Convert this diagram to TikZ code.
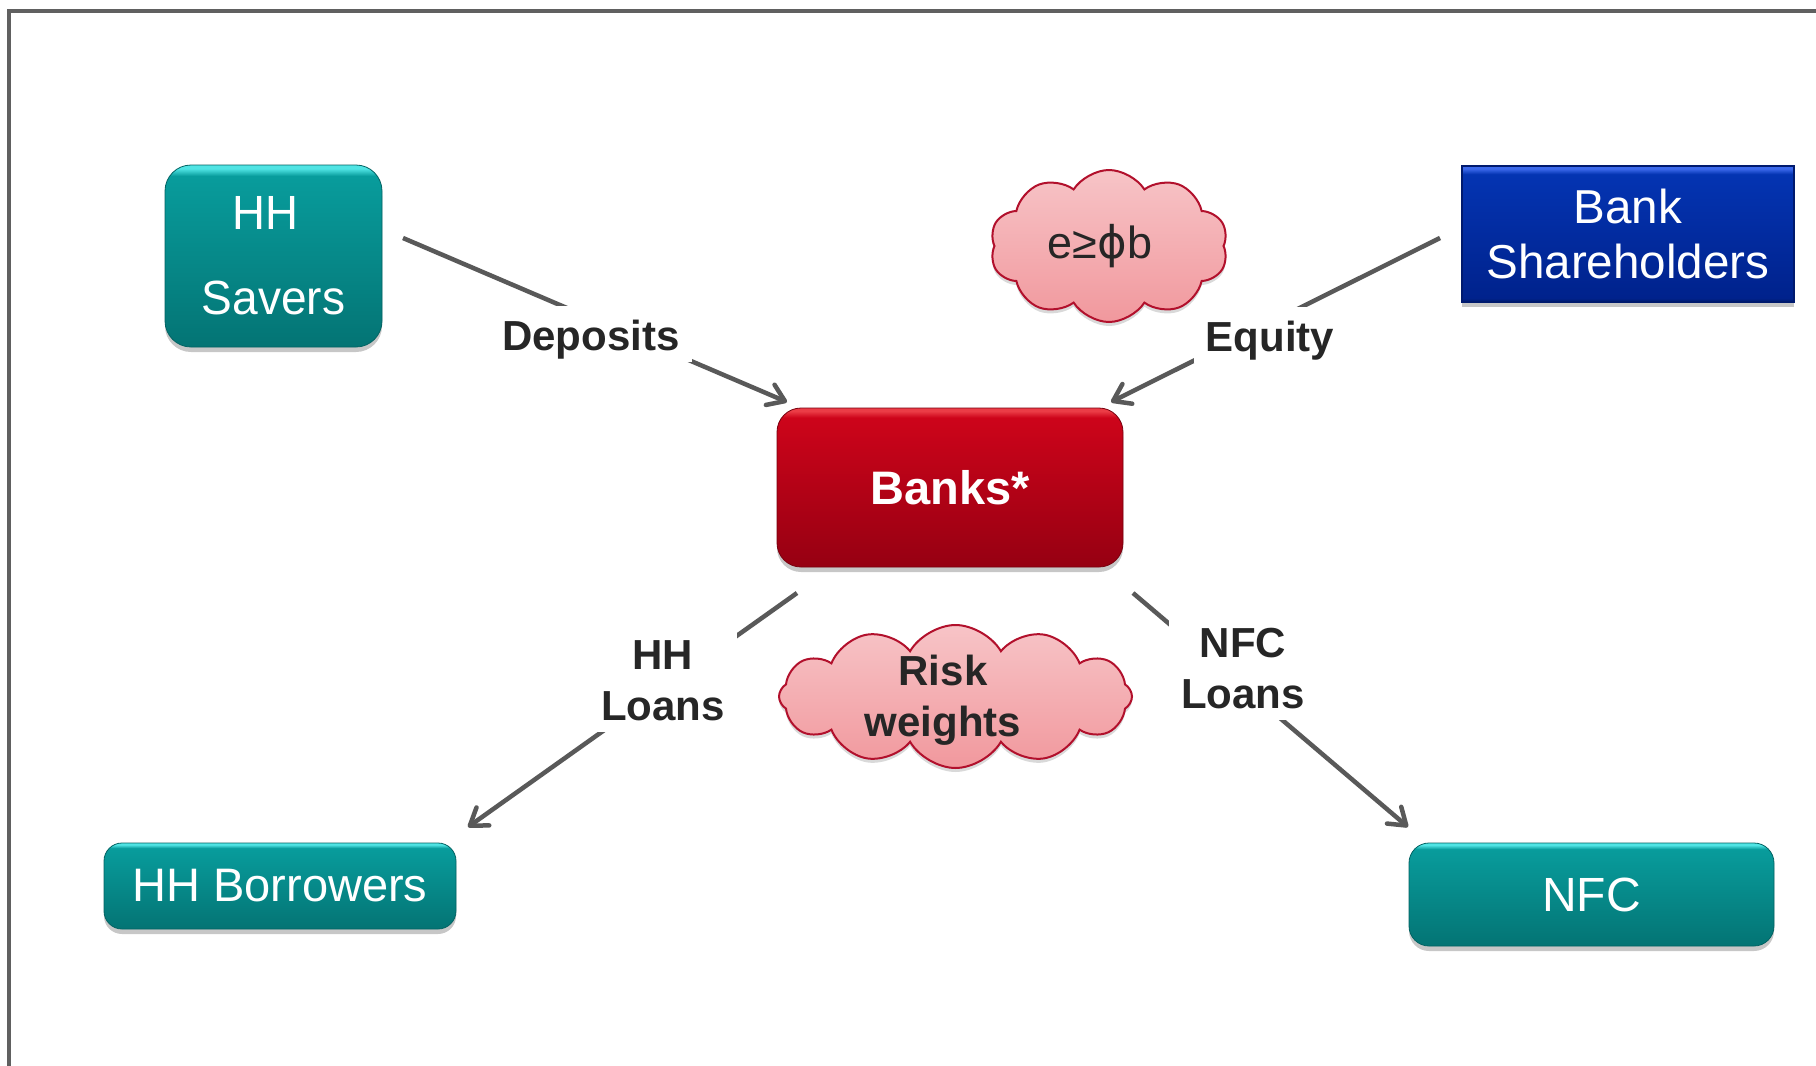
\documentclass[tikz,border=0pt]{standalone}
\usepackage{fontspec}
\setmainfont{Liberation Sans}
\newfontfamily\dejavu{DejaVu Sans}
\usepackage{graphicx}
\usetikzlibrary{arrows.meta,shapes.symbols,shadows}

\definecolor{linegray}{RGB}{89,89,89}
\definecolor{framegray}{RGB}{96,96,96}
\definecolor{labeltext}{RGB}{38,38,38}
\definecolor{tbot}{RGB}{4,116,116}
\definecolor{tmid}{RGB}{8,156,156}
\definecolor{thi}{RGB}{80,228,228}
\definecolor{bbot}{RGB}{0,34,140}
\definecolor{bmid}{RGB}{4,52,178}
\definecolor{bhi}{RGB}{60,105,235}
\definecolor{bedge}{RGB}{0,26,110}
\definecolor{rbot}{RGB}{150,0,18}
\definecolor{rmid}{RGB}{205,4,26}
\definecolor{rhi}{RGB}{235,60,70}
\definecolor{ctop}{RGB}{247,196,199}
\definecolor{cbot}{RGB}{241,152,157}
\definecolor{cedge}{RGB}{178,16,44}

\pgfdeclareverticalshading{tealsh}{100bp}{color(0bp)=(tbot); color(25bp)=(tbot); color(72bp)=(tmid); color(74bp)=(thi); color(100bp)=(thi)}
\pgfdeclareverticalshading{bluesh}{100bp}{color(0bp)=(bedge); color(25bp)=(bedge); color(26.5bp)=(bbot); color(72bp)=(bmid); color(74bp)=(bhi); color(100bp)=(bhi)}
\pgfdeclareverticalshading{redsh}{100bp}{color(0bp)=(rbot); color(25bp)=(rbot); color(72bp)=(rmid); color(74bp)=(rhi); color(100bp)=(rhi)}
\pgfdeclareverticalshading{cloudsh}{100bp}{color(0bp)=(cbot); color(25bp)=(cbot); color(75bp)=(ctop); color(100bp)=(ctop)}

\newcommand{\lbtop}{\rule{0pt}{22pt}}
\newcommand{\lbbot}{\rule[-6pt]{0pt}{6pt}}

\begin{document}
\begin{tikzpicture}[x=0.5pt,y=-0.5pt,
  boxshadow/.style={drop shadow={shadow xshift=0pt,shadow yshift=-2.5pt,opacity=0.22,fill=black}},
  tealbox/.style={shade,shading=tealsh,draw=tbot!85!black,line width=0.4pt,text=white,inner sep=0pt,align=center,boxshadow},
  bluebox/.style={shade,shading=bluesh,draw=bedge,line width=0.6pt,text=white,inner sep=0pt,align=center,boxshadow},
  redbox/.style={shade,shading=redsh,draw=rbot!80!black,line width=0.4pt,text=white,inner sep=0pt,align=center,boxshadow},
  cloudbox/.style={cloud,shade,shading=cloudsh,draw=cedge,line width=1pt,inner sep=0pt,cloud ignores aspect,
     drop shadow={shadow xshift=0pt,shadow yshift=-2pt,opacity=0.15,fill=black}},
  cloudtext/.style={text=labeltext,inner sep=0pt,align=center},
  conn/.style={draw=linegray,line width=2.25pt,-{Straight Barb[length=8pt,width=11pt,round]}},
  lbl/.style={fill=white,text=labeltext,inner xsep=6pt,inner ysep=0pt,align=center,
     font=\bfseries\fontsize{21}{25.5}\selectfont}
]
\useasboundingbox (0,0) rectangle (1816,1066);
\clip (0,0) rectangle (1816,1066);
\fill[white] (0,0) rectangle (1816,1066);
\draw[framegray,line width=2pt] (9,1200) -- (9,11) -- (1900,11);

% boxes
\node[tealbox,minimum width=108.5pt,minimum height=91pt,rounded corners=13pt,
  font=\fontsize{24}{42.5}\selectfont] (sav) at (273.5,256)
  {\scalebox{0.95}[1]{HH}\rule{8pt}{0pt}\\\scalebox{0.96}[1]{Savers}};
\node[bluebox,minimum width=166pt,minimum height=68pt,
  font=\fontsize{23.8}{27.5}\selectfont] (sh) at (1628,234) {Bank\\Shareholders};
\node[redbox,minimum width=173pt,minimum height=79.5pt,rounded corners=12pt,
  font=\bfseries\fontsize{23.5}{28}\selectfont] (bank) at (950,487.5) {Banks*};
\node[tealbox,minimum width=176pt,minimum height=43pt,rounded corners=9pt,
  font=\fontsize{23.5}{28}\selectfont] (bor) at (280,886) {HH Borrowers};
\node[tealbox,minimum width=182.5pt,minimum height=51.5pt,rounded corners=10pt,
  font=\fontsize{24}{28}\selectfont] (nfc) at (1591.5,894.5) {NFC};

% clouds
\node[cloudbox,cloud puffs=10,cloud puff arc=115,minimum width=119pt,minimum height=76pt] (c1) at (1109,246) {};
\node[cloudtext,anchor=base,font=\fontsize{22.5}{26}\selectfont] (c1t) at (1100,258) {e≥{\dejavu ϕ}b};
\node[cloudbox,cloud puffs=12,cloud puff arc=120,minimum width=176.5pt,minimum height=71.5pt] (c2) at (955.5,696.5) {};
\node[cloudtext,font=\bfseries\fontsize{21}{25.5}\selectfont] (c2t) at (943,700) {Risk\\weights};

% connectors
\coordinate (d1) at (403,238); \coordinate (d2) at (787,402);
\coordinate (e1) at (1440,238); \coordinate (e2) at (1111,402);
\coordinate (h1) at (797,593); \coordinate (h2) at (468,827);
\coordinate (n1) at (1133,593); \coordinate (n2) at (1408,827);
\draw[conn] (d1) -- (d2);
\draw[conn] (e1) -- (e2);
\draw[conn] (h1) -- (h2);
\draw[conn] (n1) -- (n2);

% labels
\node[lbl,anchor=north] (ldep) at (591,306) {\lbtop Deposits\lbbot};
\node[lbl,anchor=north] (lequ) at (1270,307) {\lbtop Equity\lbbot};
\node[lbl,anchor=north] (lhh) at (663,625) {\lbtop HH\\Loans\lbbot};
\node[lbl,anchor=north] (lnfc) at (1243,613) {\lbtop NFC\\Loans\lbbot};
\end{tikzpicture}
\end{document}
